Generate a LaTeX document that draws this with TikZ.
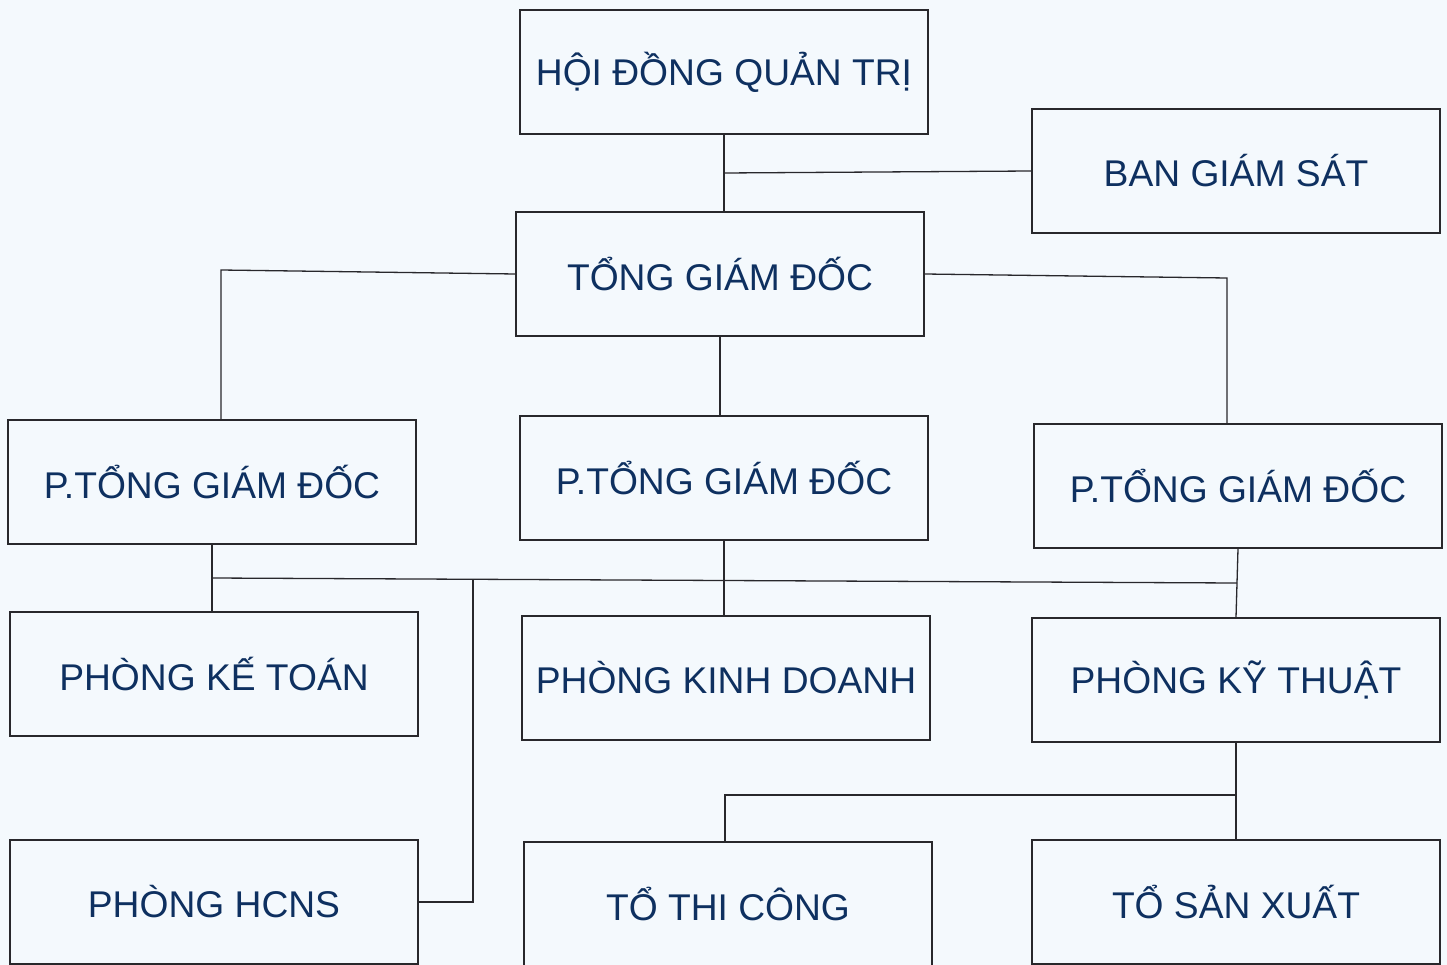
\documentclass[tikz,border=0pt]{standalone}
\usepackage{fontspec}
\setmainfont{Liberation Sans}
\usepackage{tikz}
\usetikzlibrary{positioning, calc}
\definecolor{bgcol}{RGB}{244,249,253}
\definecolor{textcol}{RGB}{14,48,96}
\definecolor{linecol}{RGB}{40,40,44}
\tikzstyle{unit}=[draw=linecol,fill=bgcol,rectangle,minimum width=408pt,minimum height=124pt,inner sep=0pt,text=textcol,font=\fontsize{37.2}{44}\selectfont]

\begin{document}
\begin{tikzpicture}[x=1pt,y=-1pt,line width=1.3pt,link/.style={draw=linecol,line width=1.3pt}]
\fill[bgcol] (0,0) rectangle (1447,965);
\useasboundingbox (0,0) rectangle (1447,965);
% top level
\node [unit] (hdqt) at (724,72) {HỘI ĐỒNG QUẢN TRỊ};
\node [unit] (bgs) at (1236,171) {BAN GIÁM SÁT};
\node [unit] (tgd) at (720,274) {TỔNG GIÁM ĐỐC};
% deputies
\node [unit] (ptgd1) at (212,482) {P.TỔNG GIÁM ĐỐC};
\node [unit] (ptgd2) at (724,478) {P.TỔNG GIÁM ĐỐC};
\node [unit] (ptgd3) at (1238,486) {P.TỔNG GIÁM ĐỐC};
% departments
\node [unit] (pkt) at (214,674) {PHÒNG KẾ TOÁN};
\node [unit] (pkd) at (726,678) {PHÒNG KINH DOANH};
\node [unit] (pkyt) at (1236,680) {PHÒNG KỸ THUẬT};
\node [unit] (phcns) at (214,902) {PHÒNG HCNS};
\node [unit] (ttc) at (728,904) {TỔ THI CÔNG};
\node [unit] (tsx) at (1236,902) {TỔ SẢN XUẤT};
% joints
\coordinate (j1) at (724,173);
\coordinate (c1) at (221,270);
\coordinate (c2) at (1227,278);
\coordinate (b1) at (212,578);
\coordinate (b2) at (1237,583);
\coordinate (b3) at (473,580);
\coordinate (b4) at (1236,795);
\coordinate (b5) at (725,795);
% connectors
\draw [link] (hdqt.south) -- (hdqt.south |- tgd.north);
\draw [link] (j1) -- (bgs.west);
\draw [link] (tgd.west) -- (c1) -- (c1 |- ptgd1.north);
\draw [link] (tgd.east) -- (c2) -- (c2 |- ptgd3.north);
\draw [link] (tgd.south) -- (tgd.south |- ptgd2.north);
\draw [link] (ptgd1.south) -- (ptgd1.south |- pkt.north);
\draw [link] (b1) -- (b2);
\draw [link] (ptgd2.south) -- (ptgd2.south |- pkd.north);
\draw [link] (ptgd3.south) -- (pkyt.north);
\draw [link] (b3) -- (b3 |- phcns.east) -- (phcns.east);
\draw [link] (pkyt.south) -- (tsx.north);
\draw [link] (b4) -- (b5) -- (b5 |- ttc.north);
\end{tikzpicture}
\end{document}
